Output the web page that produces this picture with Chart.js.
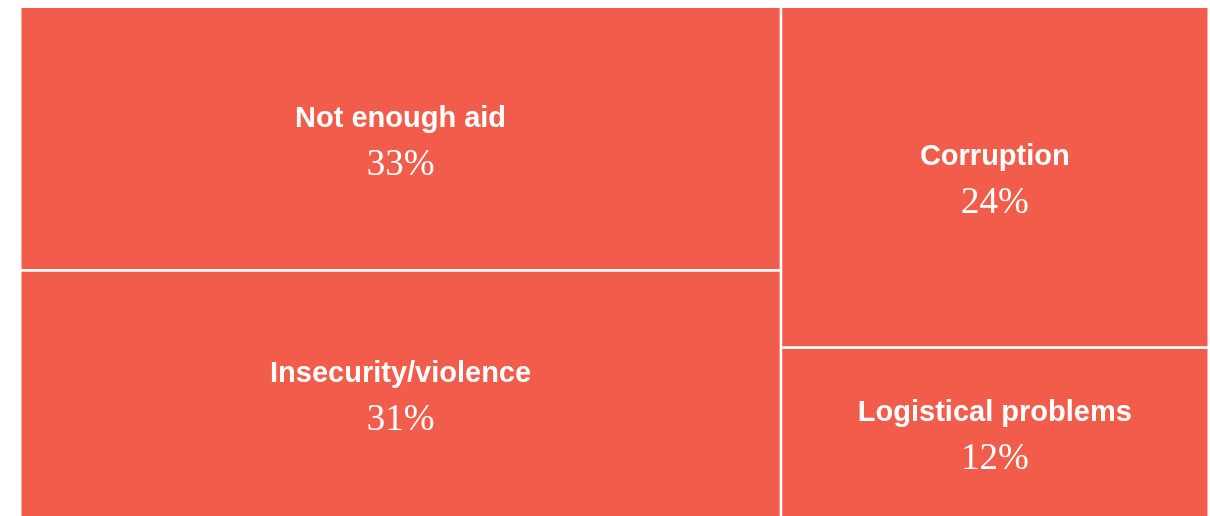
<!DOCTYPE html>
<html>
<head>
<meta charset="utf-8">
<script src="https://cdn.jsdelivr.net/npm/chart.js@4.4.1/dist/chart.umd.min.js"></script>
<style>
  html, body { margin: 0; padding: 0; background: #ffffff; overflow: hidden; }
  #wrap { width: 1210px; height: 518px; position: relative; }
</style>
</head>
<body>
<div id="wrap"><canvas id="treemap"></canvas></div>
<script>
// Obstacles to aid delivery, share of answers
const categories = ['Not enough aid', 'Insecurity/violence', 'Corruption', 'Logistical problems'];
const shares = [33, 31, 24, 12];
const valueLabels = ['33%', '31%', '24%', '12%'];

const tileColor = '#f25c4a';

// Split the tiles into two columns whose sums are as balanced as possible,
// then stack the tiles of each column top to bottom (units 0..100 on both axes).
function layoutTiles(values) {
    const total = values.reduce((a, b) => a + b, 0);
    let run = 0, split = 1, best = Infinity;
    for (let i = 0; i < values.length - 1; i++) {
        run += values[i];
        const diff = Math.abs(run - total / 2);
        if (diff < best) { best = diff; split = i + 1; }
    }
    const columns = [values.slice(0, split).map((v, j) => j), values.slice(split).map((v, j) => j + split)];
    const tiles = [];
    let x = 0;
    columns.forEach(col => {
        const colSum = col.reduce((s, idx) => s + values[idx], 0);
        const w = colSum / total * 100;
        let y = 0;
        col.forEach(idx => {
            const h = values[idx] / colSum * 100;
            tiles[idx] = { x0: x, x1: x + w, y0: y, y1: y + h };
            y += h;
        });
        x += w;
    });
    return tiles;
}

const tiles = layoutTiles(shares);

const datasets = tiles.map((t, i) => ({
    label: categories[i],
    data: [
        { x: t.x0, y: t.y0 }, { x: t.x1, y: t.y0 },
        { x: t.x1, y: t.y1 }, { x: t.x0, y: t.y1 },
        { x: t.x0, y: t.y0 }
    ],
    showLine: true,
    fill: 'shape',
    backgroundColor: tileColor,
    borderColor: '#ffffff',
    borderWidth: 2.5,
    borderJoinStyle: 'miter',
    pointRadius: 0,
    pointHoverRadius: 0,
    tension: 0,
    clip: false
}));

const tileLabels = {
    id: 'tileLabels',
    afterDatasetsDraw(chart) {
        const { ctx, scales: { x, y } } = chart;
        ctx.save();
        ctx.fillStyle = '#ffffff';
        ctx.textAlign = 'center';
        ctx.textBaseline = 'alphabetic';
        tiles.forEach((t, i) => {
            const cx = (x.getPixelForValue(t.x0) + x.getPixelForValue(t.x1)) / 2;
            const cy = (y.getPixelForValue(t.y0) + y.getPixelForValue(t.y1)) / 2;
            ctx.font = 'bold 29px "Liberation Sans", Arial, sans-serif';
            ctx.fillText(categories[i], cx, cy - 12);
            ctx.font = '37px "Liberation Serif", "Times New Roman", serif';
            ctx.fillText(valueLabels[i], cx, cy + 36);
        });
        ctx.restore();
    }
};

new Chart(document.getElementById('treemap').getContext('2d'), {
    type: 'scatter',
    data: { datasets },
    options: {
        responsive: true,
        maintainAspectRatio: false,
        animation: false,
        layout: { padding: { left: 20.25, right: 1.25, top: 6.75, bottom: 0 } },
        scales: {
            x: { type: 'linear', min: 0, max: 100, display: false },
            y: { type: 'linear', min: 0, max: 100, reverse: true, display: false }
        },
        plugins: {
            legend: { display: false },
            tooltip: { enabled: false }
        }
    },
    plugins: [tileLabels]
});
</script>
</body>
</html>
